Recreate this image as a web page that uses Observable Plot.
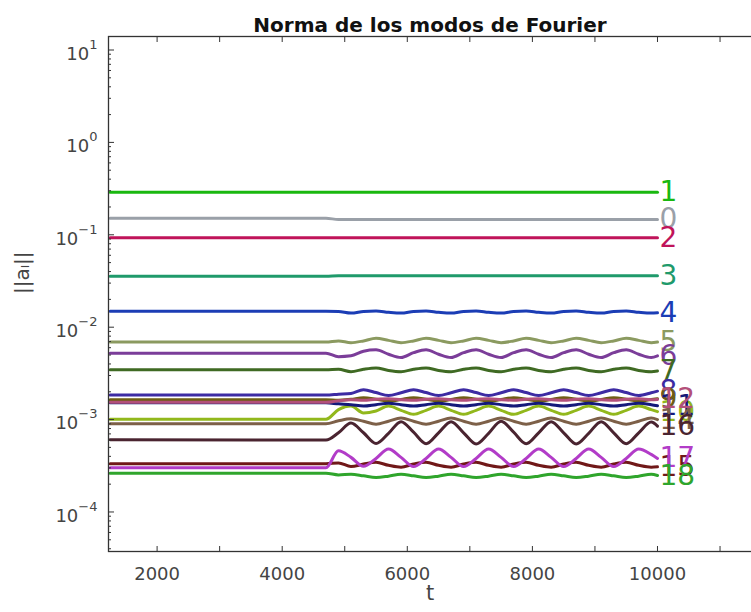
<!DOCTYPE html>
<html><head><meta charset="utf-8">
<script src="https://cdn.jsdelivr.net/npm/d3@7"></script>
<script src="https://cdn.jsdelivr.net/npm/@observablehq/plot@0.6"></script>
<style>body{margin:0;background:#fff}svg{display:block}</style>
</head><body><div id="chart"></div>
<script>
// time grid (t)
const T = [1250, 4700, 4900, 5100, 5300, 5500, 5700, 5900, 6100, 6300, 6500, 6700, 6900, 7100, 7300, 7500, 7700, 7900, 8100, 8300, 8500, 8700, 8900, 9100, 9300, 9500, 9700, 9900, 10000];

// ||a_l|| per mode
const m0 = [0.151, 0.151, 0.1465, 0.1465, 0.1465, 0.1465, 0.1465, 0.1465, 0.1465, 0.1465, 0.1465, 0.1465, 0.1465, 0.1465, 0.1465, 0.1465, 0.1465, 0.1465, 0.1465, 0.1465, 0.1465, 0.1465, 0.1465, 0.1465, 0.1465, 0.1465, 0.1465, 0.1465, 0.1465];
const m1 = [0.289, 0.289, 0.289, 0.289, 0.289, 0.289, 0.289, 0.289, 0.289, 0.289, 0.289, 0.289, 0.289, 0.289, 0.289, 0.289, 0.289, 0.289, 0.289, 0.289, 0.289, 0.289, 0.289, 0.289, 0.289, 0.289, 0.289, 0.289, 0.289];
const m2 = [0.0929, 0.0929, 0.0929, 0.0929, 0.0929, 0.0929, 0.0929, 0.0929, 0.0929, 0.0929, 0.0929, 0.0929, 0.0929, 0.0929, 0.0929, 0.0929, 0.0929, 0.0929, 0.0929, 0.0929, 0.0929, 0.0929, 0.0929, 0.0929, 0.0929, 0.0929, 0.0929, 0.0929, 0.0929];
const m3 = [0.0356, 0.0356, 0.0361, 0.0361, 0.0361, 0.0361, 0.0361, 0.0361, 0.0361, 0.0361, 0.0361, 0.0361, 0.0361, 0.0361, 0.0361, 0.0361, 0.0361, 0.0361, 0.0361, 0.0361, 0.0361, 0.0361, 0.0361, 0.0361, 0.0361, 0.0361, 0.0361, 0.0361, 0.0361];
const m4 = [0.0149, 0.0149, 0.0148, 0.0142, 0.0148, 0.0150, 0.0145, 0.0142, 0.0148, 0.0150, 0.0145, 0.0142, 0.0148, 0.0150, 0.0145, 0.0142, 0.0148, 0.0150, 0.0145, 0.0142, 0.0148, 0.0150, 0.0145, 0.0142, 0.0148, 0.0150, 0.0145, 0.0142, 0.0143];
const m5 = [0.0069, 0.0069, 0.0071, 0.0068, 0.0071, 0.0076, 0.0072, 0.0068, 0.0071, 0.0076, 0.0072, 0.0068, 0.0071, 0.0076, 0.0072, 0.0068, 0.0071, 0.0076, 0.0072, 0.0068, 0.0071, 0.0076, 0.0072, 0.0068, 0.0071, 0.0076, 0.0072, 0.0068, 0.0069];
const m6 = [0.00523, 0.00523, 0.0048, 0.0049, 0.0055, 0.0057, 0.0051, 0.0047, 0.0053, 0.0057, 0.0051, 0.0047, 0.0053, 0.0057, 0.0051, 0.0047, 0.0053, 0.0057, 0.0051, 0.0047, 0.0053, 0.0057, 0.0051, 0.0047, 0.0053, 0.0057, 0.0051, 0.0047, 0.0049];
const m7 = [0.00346, 0.00346, 0.0035, 0.0033, 0.0035, 0.00362, 0.0034, 0.0033, 0.0035, 0.00362, 0.0034, 0.0033, 0.0035, 0.00362, 0.0034, 0.0033, 0.0035, 0.00362, 0.0034, 0.0033, 0.0035, 0.00362, 0.0034, 0.0033, 0.0035, 0.00362, 0.0034, 0.0033, 0.00336];
const m8 = [0.00184, 0.00184, 0.00188, 0.00192, 0.0021, 0.00196, 0.00182, 0.00195, 0.0021, 0.00196, 0.00182, 0.00195, 0.0021, 0.00196, 0.00182, 0.00195, 0.0021, 0.00196, 0.00182, 0.00195, 0.0021, 0.00196, 0.00182, 0.00195, 0.0021, 0.00196, 0.00182, 0.00195, 0.00203];
const m9 = [0.00164, 0.00164, 0.00162, 0.00166, 0.00172, 0.00166, 0.00158, 0.00165, 0.00172, 0.00166, 0.00158, 0.00165, 0.00172, 0.00166, 0.00158, 0.00165, 0.00172, 0.00166, 0.00158, 0.00165, 0.00172, 0.00166, 0.00158, 0.00165, 0.00172, 0.00166, 0.00158, 0.00165, 0.00168];
const m10 = [0.00101, 0.00101, 0.00128, 0.0014, 0.00118, 0.00124, 0.0014, 0.00126, 0.00114, 0.00126, 0.0014, 0.00126, 0.00114, 0.00126, 0.0014, 0.00126, 0.00114, 0.00126, 0.0014, 0.00126, 0.00114, 0.00126, 0.0014, 0.00126, 0.00114, 0.00126, 0.0014, 0.00128, 0.00122];
const m11 = [0.00152, 0.00152, 0.00148, 0.00145, 0.0014, 0.00145, 0.0015, 0.00145, 0.0014, 0.00145, 0.0015, 0.00145, 0.0014, 0.00145, 0.0015, 0.00145, 0.0014, 0.00145, 0.0015, 0.00145, 0.0014, 0.00145, 0.0015, 0.00145, 0.0014, 0.00145, 0.0015, 0.00145, 0.00141];
const m12 = [0.00154, 0.00154, 0.0016, 0.00164, 0.00162, 0.00166, 0.00168, 0.00164, 0.00162, 0.00166, 0.00168, 0.00164, 0.00162, 0.00166, 0.00168, 0.00164, 0.00162, 0.00166, 0.00168, 0.00164, 0.00162, 0.00166, 0.00168, 0.00164, 0.00162, 0.00166, 0.00168, 0.00164, 0.00165];
const m14 = [0.000901, 0.000901, 0.00097, 0.00102, 0.00096, 0.00089, 0.00096, 0.00104, 0.00096, 0.00089, 0.00096, 0.00104, 0.00096, 0.00089, 0.00096, 0.00104, 0.00096, 0.00089, 0.00096, 0.00104, 0.00096, 0.00089, 0.00096, 0.00104, 0.00096, 0.00089, 0.00096, 0.00104, 0.001];
const m15 = [0.000333, 0.000333, 0.00034, 0.00031, 0.00033, 0.000345, 0.00032, 0.000305, 0.00033, 0.000345, 0.00032, 0.000305, 0.00033, 0.000345, 0.00032, 0.000305, 0.00033, 0.000345, 0.00032, 0.000305, 0.00033, 0.000345, 0.00032, 0.000305, 0.00033, 0.000345, 0.00032, 0.000305, 0.000308];
const m16 = [0.000604, 0.0006, 0.00072, 0.00092, 0.00072, 0.00055, 0.00071, 0.00095, 0.00073, 0.000548, 0.00072, 0.00095, 0.00072, 0.000545, 0.00071, 0.00096, 0.00073, 0.000548, 0.00072, 0.00095, 0.00072, 0.000545, 0.00071, 0.00095, 0.00072, 0.000548, 0.00072, 0.00094, 0.00085];
const m17 = [0.000301, 0.000301, 0.00046, 0.00039, 0.000312, 0.00038, 0.00048, 0.00039, 0.00031, 0.00038, 0.00048, 0.00039, 0.00031, 0.00038, 0.00048, 0.00039, 0.00031, 0.00038, 0.00048, 0.00039, 0.00031, 0.00038, 0.00048, 0.00039, 0.00031, 0.00038, 0.00048, 0.00042, 0.00038];
const m18 = [0.000263, 0.000263, 0.000252, 0.000256, 0.000246, 0.000236, 0.000244, 0.000256, 0.000246, 0.000236, 0.000244, 0.000256, 0.000246, 0.000236, 0.000244, 0.000256, 0.000246, 0.000236, 0.000244, 0.000256, 0.000246, 0.000236, 0.000244, 0.000256, 0.000246, 0.000236, 0.000244, 0.000256, 0.000248];

const modeLabels = ["0", "1", "2", "3", "4", "5", "6", "7", "8", "9", "10", "11", "12", "14", "15", "16", "17", "18"];
const modeValues = [m0, m1, m2, m3, m4, m5, m6, m7, m8, m9, m10, m11, m12, m14, m15, m16, m17, m18];
const modeColors = ["#9aa0a8", "#19b80f", "#c0145a", "#1f9a6b", "#1b3db5", "#8b9a60", "#7b3d99", "#3f6a23", "#3d2ba3", "#6e5d14", "#92b81c", "#14197a", "#b3507a", "#7d6048", "#701818", "#4a2430", "#b23cc8", "#2fa52c"];

const xTicks = [2000, 3000, 4000, 5000, 6000, 7000, 8000, 9000, 10000, 11000];
const xLabelTicks = [2000, 4000, 6000, 8000, 10000];
const yMajor = [1e-4, 1e-3, 1e-2, 1e-1, 1, 10];
const yMinor = [4e-5, 5e-5, 6e-5, 7e-5, 8e-5, 9e-5, 2e-4, 3e-4, 4e-4, 5e-4, 6e-4, 7e-4, 8e-4, 9e-4, 2e-3, 3e-3, 4e-3, 5e-3, 6e-3, 7e-3, 8e-3, 9e-3, 2e-2, 3e-2, 4e-2, 5e-2, 6e-2, 7e-2, 8e-2, 9e-2, 0.2, 0.3, 0.4, 0.5, 0.6, 0.7, 0.8, 0.9, 2, 3, 4, 5, 6, 7, 8, 9];

const title = "Norma de los modos de Fourier";
const xLabel = "t";
const yLabel = "||aₗ||";

const rows = modeValues.flatMap((vals, k) => vals.map((v, i) => ({t: T[i], v, mode: modeLabels[k], color: modeColors[k]})));
const ends = modeValues.map((vals, k) => ({t: T[T.length - 1], v: vals[vals.length - 1], mode: modeLabels[k], color: modeColors[k]}));

const svg = Plot.plot({
  width: 751, height: 612,
  marginLeft: 108, marginRight: 0, marginTop: 36, marginBottom: 61,
  style: {fontFamily: "DejaVu Sans, sans-serif", background: "#fff", color: "#333", overflow: "visible"},
  x: {domain: [1223, 11503]},
  y: {type: "log", domain: [3.735e-5, 14]},
  color: {type: "identity"},
  marks: [
    Plot.line(rows, {x: "t", y: "v", z: "mode", stroke: "color", strokeWidth: 3, curve: "monotone-x"}),
    Plot.text(ends, {x: "t", y: "v", text: "mode", fill: "color", textAnchor: "start", dx: 2, fontSize: 28}),
    Plot.frame({stroke: "#333", strokeWidth: 1.3, insetRight: -4}),
    Plot.axisY(yMinor, {anchor: "left", tickSize: -3, fill: "none", label: null, stroke: "#333"}),
    Plot.axisY(yMajor, {anchor: "left", tickSize: -6, fill: "none", label: null, stroke: "#333"}),
    Plot.axisY(yMajor, {anchor: "left", tickSize: 0, tickPadding: 11, dy: 4, fontSize: 18, fill: "#444", label: null,
      tickFormat: d => "10^" + Math.round(Math.log10(d))}),
    Plot.axisX(xTicks, {anchor: "bottom", tickSize: -5, fill: "none", label: null, stroke: "#333"}),
    Plot.axisX(xTicks, {anchor: "top", tickSize: -5, fill: "none", label: null, stroke: "#333"}),
    Plot.axisX(xLabelTicks, {anchor: "bottom", tickSize: 0, tickPadding: 16, fontSize: 18, fill: "#444", label: null, tickFormat: d => String(d)}),
    Plot.text([title], {frameAnchor: "top", dy: -19, fontSize: 20, fontWeight: "bold", fill: "#111"}),
    Plot.text([xLabel], {frameAnchor: "bottom", dy: 48, fontSize: 21, fill: "#444"}),
    Plot.text([yLabel], {frameAnchor: "left", dx: -86, rotate: -90, fontSize: 20, fill: "#444"})
  ]
});

d3.select(svg).selectAll('g[aria-label="y-axis tick label"] text').each(function () {
  const s = this.textContent;
  const parts = s.split("^");
  if (parts.length !== 2) return;
  const sel = d3.select(this);
  sel.text(parts[0]);
  sel.append("tspan").attr("dy", -11).attr("font-size", 13).text(parts[1].replace("-", "\u2212"));
});

document.getElementById("chart").appendChild(svg);
</script>
</body></html>
